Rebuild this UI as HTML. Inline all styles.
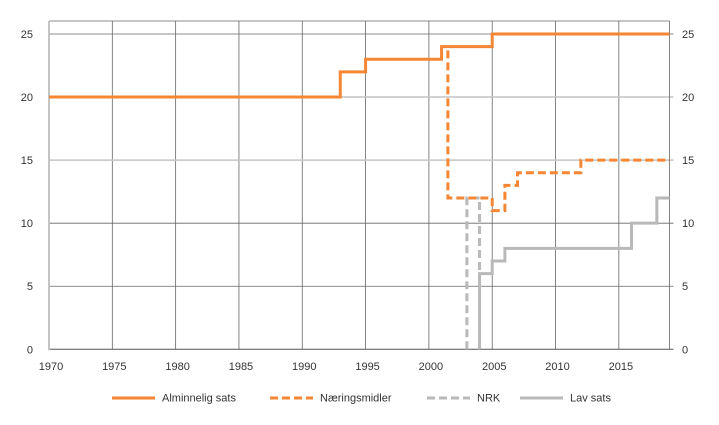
<!DOCTYPE html>
<html><head><meta charset="utf-8"><style>
body{margin:0;background:#fff;}
svg{display:block;font-family:"Liberation Sans",sans-serif;}
text{fill:#333;font-size:11px;}
</style></head><body>
<svg id="chart" width="719" height="425" viewBox="0 0 719 425"></svg>
<script>
const xTicks=[1970,1975,1980,1985,1990,1995,2000,2005,2010,2015];
const yTicks=[0,5,10,15,20,25];
const alminneligX=[1970,1993,1995,2001,2005,2019];
const alminneligY=[20,22,23,24,25,25];
const naeringX=[2001.5,2001.5,2005,2006,2007,2012,2019];
const naeringY=[23.7,12,11,13,14,15,15];
const nrkX=[2003,2003,2004,2004];
const nrkY=[0,12,12,6];
const lavX=[2004,2004,2005,2006,2016,2018,2019];
const lavY=[0,6,7,8,10,12,12];
const legendLabels=["Alminnelig sats","Næringsmidler","NRK","Lav sats"];

const NS="http://www.w3.org/2000/svg";
const svg=document.getElementById('chart');
const L=49,R=669.5,T=21,B=349.3;
const xs=v=>L+(v-1970)*(R-L)/49;
const ys=v=>B-v*(B-34)/25;
function mk(tag,attrs,parent){const e=document.createElementNS(NS,tag);for(const k in attrs)e.setAttribute(k,attrs[k]);(parent||svg).appendChild(e);return e;}

const grid=mk('g',{});


xTicks.forEach(t=>{if(t>1970){const l=mk('line',{x1:xs(t),x2:xs(t),y1:T,y2:B,stroke:'#666','stroke-width':0.8},grid);

}});
yTicks.forEach(t=>{if(t>0){const light=(t===20||t===15);const l=mk('line',{x1:L,x2:R+4,y1:ys(t),y2:ys(t),stroke:light?'#c4c4c4':'#666','stroke-width':light?1.5:0.8},grid);

}});
const topLine=mk('line',{x1:L,x2:R,y1:T,y2:T,stroke:'#666','stroke-width':0.8},grid);


const rax=mk('line',{x1:R,x2:R,y1:T,y2:B,stroke:'#666','stroke-width':0.8},grid);


const bax=mk('line',{x1:L,x2:R+4,y1:B,y2:B,stroke:'#555','stroke-width':1});


const lax=mk('line',{x1:L,x2:L,y1:T,y2:B+1,stroke:'#c4c4c4','stroke-width':2});



xTicks.forEach(t=>{const e=mk('text',{x:xs(t)+2,y:370,'text-anchor':'middle'});e.textContent=t;

});
yTicks.forEach(t=>{const e=mk('text',{x:33,y:ys(t)+4,'text-anchor':'end'});e.textContent=t;


const f=mk('text',{x:682,y:ys(t)+4,'text-anchor':'start'});f.textContent=t;

});

function stepPath(X,Y){let d='M'+xs(X[0])+','+ys(Y[0]);for(let i=1;i<X.length;i++){d+=' H'+xs(X[i])+' V'+ys(Y[i]);}return d;}
const ORANGE='#f58634',GRAY='#b9b9b9';
const s1=mk('path',{d:stepPath(nrkX,nrkY),fill:'none',stroke:GRAY,'stroke-width':3,'stroke-dasharray':'8,4'});


const s2=mk('path',{d:stepPath(lavX,lavY),fill:'none',stroke:GRAY,'stroke-width':3});


const s3=mk('path',{d:stepPath(naeringX,naeringY),fill:'none',stroke:ORANGE,'stroke-width':3,'stroke-dasharray':'8,4'});


const s4=mk('path',{d:stepPath(alminneligX,alminneligY),fill:'none',stroke:ORANGE,'stroke-width':3});



const lx=[112,270,427,520],styles=[[ORANGE,''],[ORANGE,'8,4'],[GRAY,'8,4'],[GRAY,'']];
legendLabels.forEach((lab,i)=>{const g=mk('g',{});


mk('line',{x1:lx[i],x2:lx[i]+43,y1:398,y2:398,stroke:styles[i][0],'stroke-width':3,'stroke-dasharray':styles[i][1]},g);
const t=mk('text',{x:lx[i]+50,y:401.5,'font-size':'12'},g);t.textContent=lab;});
</script>
</body></html>
